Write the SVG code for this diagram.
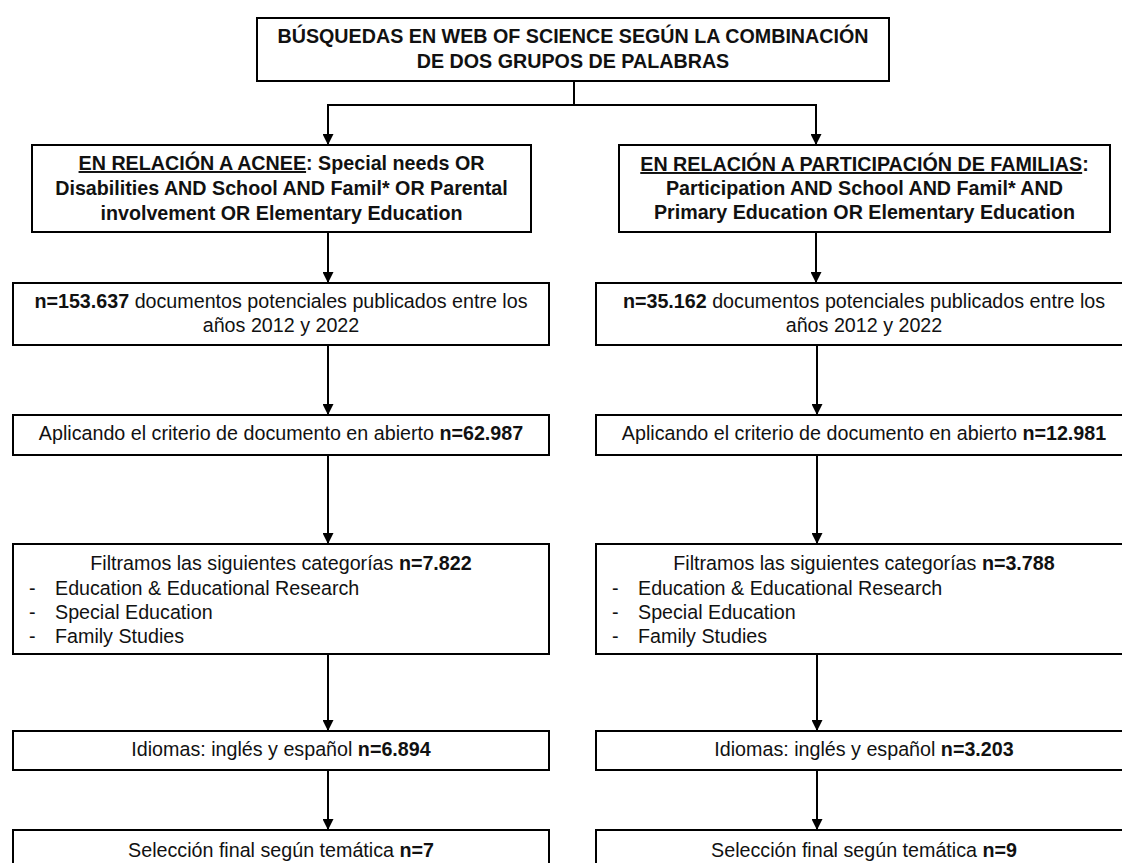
<svg xmlns="http://www.w3.org/2000/svg" width="1122" height="863" viewBox="0 0 1122 863">
<style>
.box{fill:#fff;stroke:#000;stroke-width:2}
.t{font-family:"Liberation Sans",Arial,sans-serif;font-size:19.7px;fill:#111}
.c{text-anchor:middle}
.b{font-weight:bold}
.ln{fill:none;stroke:#000;stroke-width:2}
</style>
<defs>
<marker id="ah" markerUnits="userSpaceOnUse" markerWidth="11" markerHeight="11" refX="10" refY="5" orient="auto" viewBox="0 0 10 10">
<path d="M0,0 L10,5 L0,10 z" fill="#000"/>
</marker>
</defs>
<rect width="1122" height="863" fill="#fff"/>
<g id="connectors">
<path class="ln" d="M574,81 V105"/>
<path class="ln" d="M574,105 H328 V145" marker-end="url(#ah)"/>
<path class="ln" d="M574,105 H816 V145" marker-end="url(#ah)"/>
<path class="ln" d="M328,232 V283" marker-end="url(#ah)"/>
<path class="ln" d="M816,232 V283" marker-end="url(#ah)"/>
<path class="ln" d="M328,345 V415" marker-end="url(#ah)"/>
<path class="ln" d="M817,345 V415" marker-end="url(#ah)"/>
<path class="ln" d="M328,455 V544" marker-end="url(#ah)"/>
<path class="ln" d="M817,455 V544" marker-end="url(#ah)"/>
<path class="ln" d="M328,654 V731" marker-end="url(#ah)"/>
<path class="ln" d="M817,654 V731" marker-end="url(#ah)"/>
<path class="ln" d="M328,770 V830" marker-end="url(#ah)"/>
<path class="ln" d="M817,770 V830" marker-end="url(#ah)"/>
</g>
<g id="top">
<rect class="box" x="257" y="18" width="632" height="63"/>
<text class="t c b" x="573" y="43">BÚSQUEDAS EN WEB OF SCIENCE SEGÚN LA COMBINACIÓN</text>
<text class="t c b" x="573" y="68">DE DOS GRUPOS DE PALABRAS</text>
</g>
<g id="acnee">
<rect class="box" x="32" y="145" width="499" height="87"/>
<text class="t c b" x="281.5" y="170"><tspan text-decoration="underline">EN RELACIÓN A ACNEE</tspan>: Special needs OR</text>
<text class="t c b" x="281.5" y="195">Disabilities AND School AND Famil* OR Parental</text>
<text class="t c b" x="281.5" y="220">involvement OR Elementary Education</text>
</g>
<g id="familias">
<rect class="box" x="619" y="145" width="491" height="87"/>
<text class="t c b" x="864.5" y="171"><tspan text-decoration="underline">EN RELACIÓN A PARTICIPACIÓN DE FAMILIAS</tspan>:</text>
<text class="t c b" x="864.5" y="195">Participation AND School AND Famil* AND</text>
<text class="t c b" x="864.5" y="219">Primary Education OR Elementary Education</text>
</g>
<g id="L2">
<rect class="box" x="13" y="283" width="536" height="62"/>
<text class="t c" x="281" y="308"><tspan class="b">n=153.637</tspan> documentos potenciales publicados entre los</text>
<text class="t c" x="281" y="332">años 2012 y 2022</text>
</g>
<g id="R2">
<rect class="box" x="596" y="283" width="536" height="62"/>
<text class="t c" x="864" y="308"><tspan class="b">n=35.162</tspan> documentos potenciales publicados entre los</text>
<text class="t c" x="864" y="332">años 2012 y 2022</text>
</g>
<g id="L3">
<rect class="box" x="13" y="415" width="536" height="40"/>
<text class="t c" x="281" y="440">Aplicando el criterio de documento en abierto <tspan class="b">n=62.987</tspan></text>
</g>
<g id="R3">
<rect class="box" x="596" y="415" width="536" height="40"/>
<text class="t c" x="864" y="440">Aplicando el criterio de documento en abierto <tspan class="b">n=12.981</tspan></text>
</g>
<g id="L4">
<rect class="box" x="13" y="544" width="536" height="110"/>
<text class="t c" x="281" y="570">Filtramos las siguientes categorías <tspan class="b">n=7.822</tspan></text>
<text class="t" x="29" y="595">-</text><text class="t" x="55" y="595">Education &amp; Educational Research</text>
<text class="t" x="29" y="619">-</text><text class="t" x="55" y="619">Special Education</text>
<text class="t" x="29" y="643">-</text><text class="t" x="55" y="643">Family Studies</text>
</g>
<g id="R4">
<rect class="box" x="596" y="544" width="536" height="110"/>
<text class="t c" x="864" y="570">Filtramos las siguientes categorías <tspan class="b">n=3.788</tspan></text>
<text class="t" x="612" y="595">-</text><text class="t" x="638" y="595">Education &amp; Educational Research</text>
<text class="t" x="612" y="619">-</text><text class="t" x="638" y="619">Special Education</text>
<text class="t" x="612" y="643">-</text><text class="t" x="638" y="643">Family Studies</text>
</g>
<g id="L5">
<rect class="box" x="13" y="731" width="536" height="39"/>
<text class="t c" x="281" y="756">Idiomas: inglés y español <tspan class="b">n=6.894</tspan></text>
</g>
<g id="R5">
<rect class="box" x="596" y="731" width="536" height="39"/>
<text class="t c" x="864" y="756">Idiomas: inglés y español <tspan class="b">n=3.203</tspan></text>
</g>
<g id="L6">
<rect class="box" x="13" y="830" width="536" height="50"/>
<text class="t c" x="281" y="857">Selección final según temática <tspan class="b">n=7</tspan></text>
</g>
<g id="R6">
<rect class="box" x="596" y="830" width="536" height="50"/>
<text class="t c" x="864" y="857">Selección final según temática <tspan class="b">n=9</tspan></text>
</g>
</svg>
